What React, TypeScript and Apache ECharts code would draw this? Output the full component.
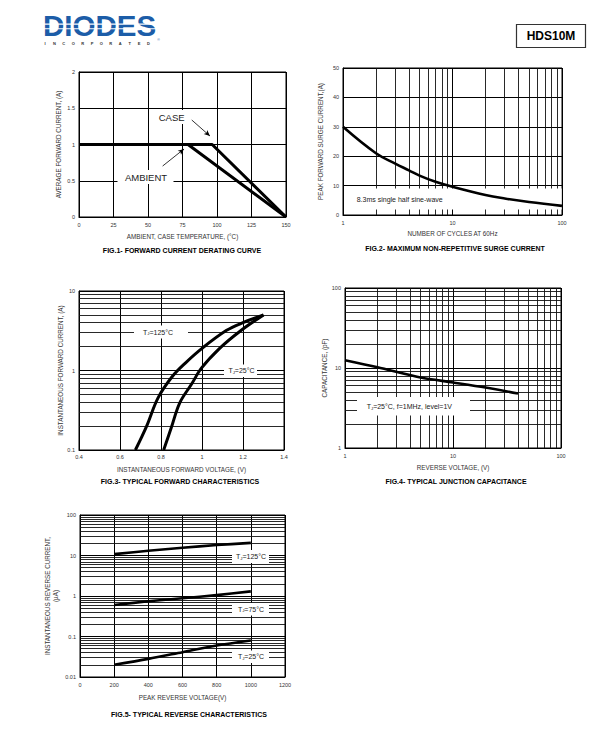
import React, { useEffect, useRef } from 'react';
import * as echarts from 'echarts';

const FONT = '"Liberation Sans", Arial, Helvetica, sans-serif';

// ---------- Fig.1 Forward current derating curve ----------
const fig1Case: number[][] = [[0, 1], [96.5, 1], [150, 0]];
const fig1Ambient: number[][] = [[0, 1], [79, 1], [150, 0]];
const fig1CaseArrow: number[][] = [[81.7, 1.338], [94.9, 1.117]];
const fig1AmbientArrow: number[][] = [[60.6, 0.703], [76.1, 0.938]];

// ---------- Fig.2 Max non-repetitive surge current ----------
const fig2Cycles = [1, 2, 3, 4, 5, 7, 10, 20, 30, 50, 100];
const fig2Current = [30, 21, 17.5, 15.2, 13.4, 11.3, 9.6, 6.8, 5.6, 4.4, 3.1];
const fig2MinorX = [2, 3, 4, 5, 6, 7, 8, 9, 20, 30, 40, 50, 60, 70, 80, 90];

// ---------- Fig.3 Typical forward characteristics ----------
const fig3V125 = [0.675, 0.73, 0.785, 0.855, 0.92, 1.0, 1.12, 1.2, 1.3];
const fig3I125 = [0.1, 0.2, 0.45, 0.84, 1.25, 1.9, 3.2, 4.0, 5.0];
const fig3V25 = [0.813, 0.85, 0.891, 0.95, 0.997, 1.086, 1.184, 1.3];
const fig3I25 = [0.1, 0.19, 0.39, 0.68, 1.07, 1.9, 3.1, 5.0];
const fig3MinorY = [0.2, 0.3, 0.4, 0.5, 0.6, 0.7, 0.8, 0.9, 2, 3, 4, 5, 6, 7, 8, 9];

// ---------- Fig.4 Typical junction capacitance ----------
const fig4Voltage = [1, 2, 5, 10, 20, 40];
const fig4Cap = [12.5, 10.2, 7.6, 6.6, 5.7, 4.8];
const fig4MinorX = [2, 3, 4, 5, 6, 7, 8, 9, 20, 30, 40, 50, 60, 70, 80, 90];
const fig4MinorY = [2, 3, 4, 5, 6, 7, 8, 9, 20, 30, 40, 50, 60, 70, 80, 90];

// ---------- Fig.5 Typical reverse characteristics ----------
const fig5Voltage = [200, 400, 600, 800, 1000];
const fig5I125 = [10.8, 13.1, 15.5, 18.1, 20.5];
const fig5I75 = [0.6, 0.74, 0.88, 1.05, 1.3];
const fig5I25 = [0.02, 0.028, 0.041, 0.06, 0.08];
const fig5MinorY = [
  0.02, 0.03, 0.04, 0.05, 0.06, 0.07, 0.08, 0.09,
  0.2, 0.3, 0.4, 0.5, 0.6, 0.7, 0.8, 0.9,
  2, 3, 4, 5, 6, 7, 8, 9,
  20, 30, 40, 50, 60, 70, 80, 90,
];

const zip = (xs: number[], ys: number[]) => xs.map((x, i) => [x, ys[i]]);

const plainNum = (v: number) => String(+v.toPrecision(6));
const tickLabel = { fontSize: 5.5, color: '#333', fontFamily: FONT, formatter: plainNum };
const nameStyle = { fontSize: 6.3, color: '#333', fontFamily: FONT };
const splitBlack = { show: true, lineStyle: { color: '#000', width: 1 } };

function xAx(gi: number, extra: any) {
  return {
    gridIndex: gi,
    nameLocation: 'middle',
    nameTextStyle: nameStyle,
    axisLine: { show: true, onZero: false, lineStyle: { color: '#000', width: 1 } },
    axisTick: { show: false },
    axisLabel: { ...tickLabel, margin: 5 },
    splitLine: splitBlack,
    ...extra,
  };
}
function yAx(gi: number, extra: any) {
  return {
    gridIndex: gi,
    nameLocation: 'middle',
    nameTextStyle: nameStyle,
    axisLine: { show: true, onZero: false, lineStyle: { color: '#000', width: 1 } },
    axisTick: { show: false },
    axisLabel: { ...tickLabel, margin: 4 },
    splitLine: splitBlack,
    ...extra,
  };
}

function gridLines(gi: number, xs: number[], ys: number[]) {
  return {
    type: 'line',
    xAxisIndex: gi,
    yAxisIndex: gi,
    data: [],
    z: 1,
    silent: true,
    markLine: {
      z: 1,
      silent: true,
      symbol: ['none', 'none'],
      label: { show: false },
      emphasis: { disabled: true },
      lineStyle: { color: '#111', width: 0.9, type: 'solid' },
      data: [...xs.map((v) => ({ xAxis: v })), ...ys.map((v) => ({ yAxis: v }))],
    },
  };
}

function curve(gi: number, data: number[][], width: number, smooth: any) {
  return {
    type: 'line',
    xAxisIndex: gi,
    yAxisIndex: gi,
    data,
    z: 3,
    silent: true,
    symbol: 'none',
    smooth,
    lineStyle: { color: '#000', width, join: 'round', cap: 'butt' },
  };
}

function whiteBox(x: number, y: number, w: number, h: number) {
  return { type: 'rect', z: 2, silent: true, shape: { x, y, width: w, height: h }, style: { fill: '#fff' } };
}
function plainText(text: string, x: number, y: number, size: number, opts: any = {}) {
  return {
    type: 'text',
    z: 5,
    silent: true,
    x,
    y,
    style: {
      text,
      fontSize: size,
      fontFamily: FONT,
      fontWeight: opts.bold ? 'bold' : 'normal',
      fill: opts.fill || '#000',
      textAlign: opts.align || 'center',
      textVerticalAlign: 'middle',
    },
  };
}
function tjText(rest: string, x: number, y: number, size: number, align: string = 'center') {
  return {
    type: 'text',
    z: 5,
    silent: true,
    x,
    y,
    style: {
      text: `{t|T}{s|J}{t|${rest}}`,
      textAlign: align,
      textVerticalAlign: 'middle',
      fill: '#222',
      fontFamily: FONT,
      rich: {
        t: { fontSize: size, fontFamily: FONT, fill: '#222' },
        s: { fontSize: size * 0.62, fontFamily: FONT, fill: '#222', verticalAlign: 'bottom' },
      },
    },
  };
}

export default function App() {
  const ref = useRef<HTMLDivElement>(null);
  useEffect(() => {
    if (!ref.current) return;
    const chart = echarts.init(ref.current, null, { renderer: 'svg' });

    const logoLetters = 'INCORPORATED'.split('');
    const graphic: any[] = [
      // logo
      {
        type: 'text', z: 5, silent: true, x: 43, y: 25.8,
        style: { text: 'DIODES', fontSize: 29.5, fontWeight: 'bold', fontFamily: FONT, fill: '#1c5da8', textAlign: 'left', textVerticalAlign: 'middle' },
      },
      { type: 'rect', z: 6, silent: true, shape: { x: 42, y: 23.6, width: 114, height: 1.1 }, style: { fill: '#fff' } },
      { type: 'rect', z: 6, silent: true, shape: { x: 42, y: 28.2, width: 114, height: 1.1 }, style: { fill: '#fff' } },
      plainText('®', 158.5, 39.5, 3.5, { fill: '#1c5da8' }),
      ...logoLetters.map((c, i) => plainText(c, 45 + i * 9.4, 43.8, 4, { bold: true, fill: '#333' })),
      // part number box
      { type: 'rect', z: 5, silent: true, shape: { x: 516.5, y: 24.5, width: 69, height: 23 }, style: { fill: '#fff', stroke: '#333', lineWidth: 1.2 } },
      plainText('HDS10M', 551, 36.3, 12, { bold: true }),
      // figure titles
      plainText('FIG.1- FORWARD CURRENT DERATING CURVE', 182, 250, 7, { bold: true }),
      plainText('FIG.2- MAXIMUM NON-REPETITIVE SURGE CURRENT', 455, 248.5, 7, { bold: true }),
      plainText('FIG.3- TYPICAL FORWARD CHARACTERISTICS', 180, 481.5, 7, { bold: true }),
      plainText('FIG.4- TYPICAL JUNCTION CAPACITANCE', 456, 481, 7, { bold: true }),
      plainText('FIG.5- TYPICAL REVERSE CHARACTERISTICS', 189, 714.5, 7, { bold: true }),
      // fig1 annotations
      whiteBox(155, 110, 34, 14),
      plainText('CASE', 171.7, 117, 9.5, { fill: '#222' }),
      whiteBox(117.5, 170, 56, 14),
      plainText('AMBIENT', 146, 177, 9.5, { fill: '#222' }),
      // fig2 annotation
      whiteBox(351.7, 188.5, 210, 21),
      plainText('8.3ms single half sine-wave', 356.7, 199, 7, { align: 'left', fill: '#222' }),
      // fig3 annotations
      whiteBox(134, 325.5, 54, 13),
      tjText('=125°C', 158, 332, 7),
      whiteBox(224, 364.5, 33, 12.5),
      tjText('=25°C', 241.5, 370.7, 7),
      // fig4 annotation
      whiteBox(357, 397, 113, 18.5),
      tjText('=25°C, f=1MHz, level=1V', 366.7, 406.5, 7, 'left'),
      // fig5 annotations
      whiteBox(232, 550, 37, 13),
      tjText('=125°C', 251, 556.5, 7),
      whiteBox(232, 603, 37, 12.5),
      tjText('=75°C', 251, 609.3, 7),
      whiteBox(232, 650.5, 37, 12.5),
      tjText('=25°C', 251, 656.7, 7),
    ];

    const gridBase = { show: true, borderColor: '#000', borderWidth: 1, backgroundColor: 'transparent' };

    const option: any = {
      animation: false,
      backgroundColor: '#fff',
      textStyle: { fontFamily: FONT },
      grid: [
        { ...gridBase, left: 79, top: 72, width: 207, height: 145 },
        { ...gridBase, left: 343, top: 68, width: 219, height: 147 },
        { ...gridBase, left: 79, top: 291, width: 205, height: 159 },
        { ...gridBase, left: 345, top: 288, width: 216, height: 160 },
        { ...gridBase, left: 80, top: 515, width: 205, height: 162 },
      ],
      xAxis: [
        xAx(0, { type: 'value', min: 0, max: 150, interval: 25, name: 'AMBIENT, CASE TEMPERATURE, (°C)', nameGap: 16 }),
        xAx(1, { type: 'log', logBase: 10, min: 1, max: 100, name: 'NUMBER OF CYCLES AT 60Hz', nameGap: 15 }),
        xAx(2, { type: 'value', min: 0.4, max: 1.4, interval: 0.2, name: 'INSTANTANEOUS FORWARD VOLTAGE, (V)', nameGap: 16, axisLabel: { ...tickLabel, margin: 4 } }),
        xAx(3, { type: 'log', logBase: 10, min: 1, max: 100, name: 'REVERSE VOLTAGE, (V)', nameGap: 16 }),
        xAx(4, { type: 'value', min: 0, max: 1200, interval: 200, name: 'PEAK REVERSE VOLTAGE(V)', nameGap: 17.5 }),
      ],
      yAxis: [
        yAx(0, { type: 'value', min: 0, max: 2, interval: 0.5, name: 'AVERAGE FORWARD CURRENT, (A)', nameGap: 18 }),
        yAx(1, { type: 'value', min: 0, max: 50, interval: 10, name: 'PEAK FORWARD SURGE CURRENT,(A)', nameGap: 19.5 }),
        yAx(2, { type: 'log', logBase: 10, min: 0.1, max: 10, name: 'INSTANTANEOUS FORWARD CURRENT, (A)', nameGap: 15.5 }),
        yAx(3, { type: 'log', logBase: 10, min: 1, max: 100, name: 'CAPACITANCE, (pF)', nameGap: 17 }),
        yAx(4, { type: 'log', logBase: 10, min: 0.01, max: 100, name: 'INSTANTANEOUS REVERSE CURRENT,\n(µA)', nameGap: 21, nameTextStyle: { ...nameStyle, lineHeight: 7.5 } }),
      ],
      series: [
        gridLines(1, fig2MinorX, []),
        gridLines(2, [], fig3MinorY),
        gridLines(3, fig4MinorX, fig4MinorY),
        gridLines(4, [], fig5MinorY),
        {
          ...curve(0, fig1Case, 3, false),
          markLine: {
            z: 4,
            silent: true,
            symbol: ['none', 'arrow'],
            symbolSize: [4, 6],
            label: { show: false },
            emphasis: { disabled: true },
            lineStyle: { color: '#000', width: 0.8, type: 'solid' },
            data: [
              [{ coord: fig1CaseArrow[0] }, { coord: fig1CaseArrow[1] }],
              [{ coord: fig1AmbientArrow[0] }, { coord: fig1AmbientArrow[1] }],
            ],
          },
        },
        curve(0, fig1Ambient, 3, false),
        curve(1, zip(fig2Cycles, fig2Current), 2.6, 0.4),
        curve(2, zip(fig3V125, fig3I125), 3, 0.35),
        curve(2, zip(fig3V25, fig3I25), 3, 0.35),
        curve(3, zip(fig4Voltage, fig4Cap), 2.6, 0.3),
        curve(4, zip(fig5Voltage, fig5I125), 2.6, 0.3),
        curve(4, zip(fig5Voltage, fig5I75), 2.6, 0.3),
        curve(4, zip(fig5Voltage, fig5I25), 2.6, 0.3),
      ],
      graphic,
    };
    chart.setOption(option);
    return () => chart.dispose();
  }, []);

  return (
    <div
      ref={ref}
      style={{ position: 'absolute', left: 0, top: 0, width: 606, height: 750, background: '#fff' }}
    />
  );
}
